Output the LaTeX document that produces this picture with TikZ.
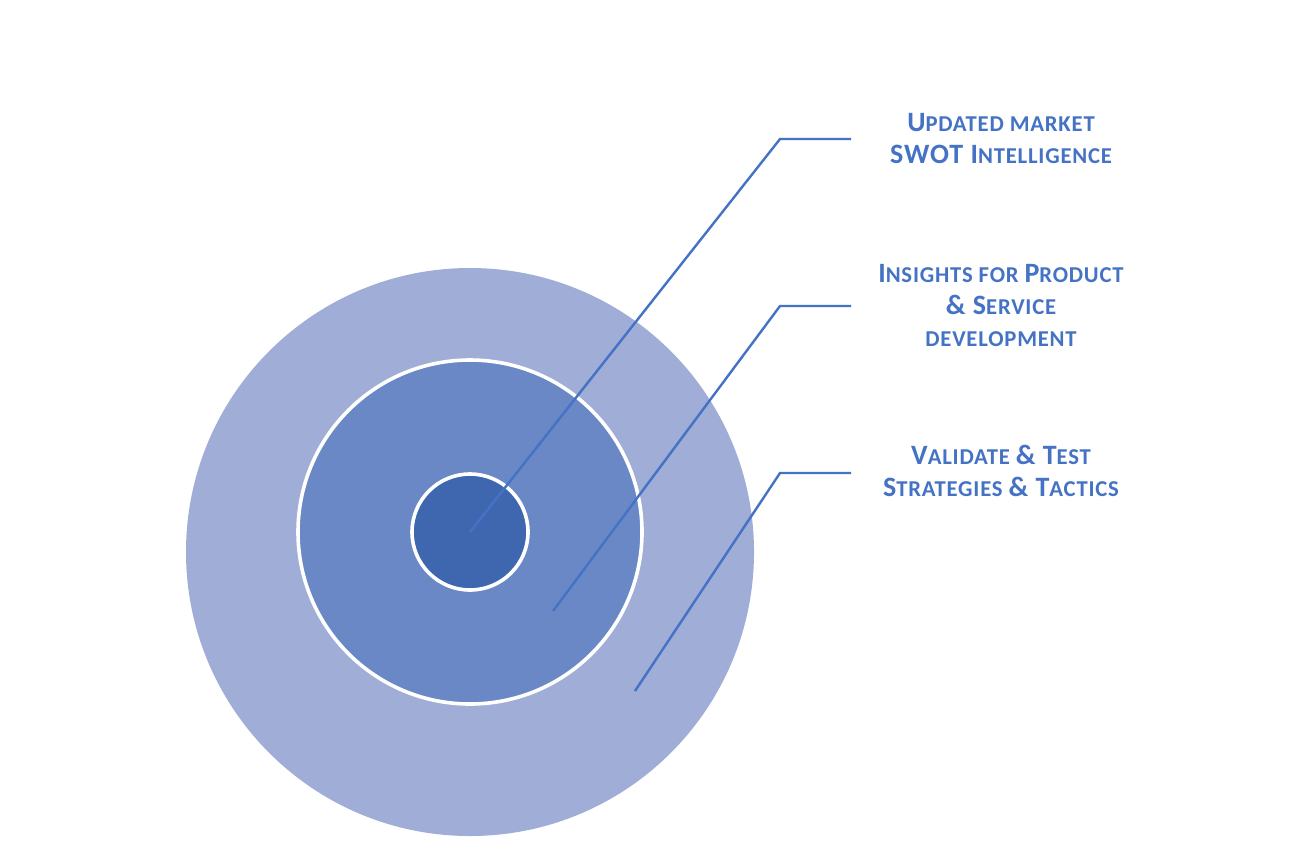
\documentclass[tikz,border=0pt]{standalone}
\usepackage{fontspec}
\setmainfont{Carlito}
\definecolor{outerc}{HTML}{9FADD7}
\definecolor{midc}{HTML}{6A88C6}
\definecolor{innerc}{HTML}{3E67AF}
\definecolor{linec}{HTML}{4472C4}
\newcommand\BigC[1]{{\fontsize{21}{24}\selectfont #1}}
\begin{document}
\begin{tikzpicture}[x=0.75pt,y=-0.75pt,
  ring/.style={circle,inner sep=0pt,outer sep=0pt},
  leader/.style={draw=linec,line width=1.8pt},
  label/.style={text=linec,font=\bfseries\fontsize{17}{24}\selectfont\addfontfeature{LetterSpace=3.5},align=center,inner sep=0pt}]
\useasboundingbox (0,0) rectangle (1301,861);
\fill[white] (0,0) rectangle (1301,861);
\node[ring,fill=outerc,minimum size=568*0.75pt] (outer) at (470,552) {};
\node[ring,fill=midc,draw=white,line width=2.7pt,minimum size=344*0.75pt] (mid) at (470,532) {};
\node[ring,fill=innerc,draw=white,line width=2.7pt,minimum size=116*0.75pt] (inner) at (470,532) {};
\coordinate (s1) at (470,532);
\coordinate (k1) at (780,139);
\coordinate (e1) at (851,139);
\coordinate (s2) at (553,611);
\coordinate (k2) at (780,306);
\coordinate (e2) at (851,306);
\coordinate (s3) at (635,691);
\coordinate (k3) at (780,473);
\coordinate (e3) at (851,473);
\draw[leader] (s1) -- (k1) -- (e1);
\draw[leader] (s2) -- (k2) -- (e2);
\draw[leader] (s3) -- (k3) -- (e3);
\node[label,anchor=base] (t1) at (1001,163) {\BigC{U}PDATED MARKET\\\BigC{SWOT I}NTELLIGENCE};
\node[label,anchor=base] (t2) at (1001,346) {\BigC{I}NSIGHTS FOR \BigC{P}RODUCT\\\BigC{\& S}ERVICE\\DEVELOPMENT};
\node[label,anchor=base] (t3) at (1001,496) {\BigC{V}ALIDATE \BigC{\& T}EST\\\BigC{S}TRATEGIES \BigC{\& T}ACTICS};
\end{tikzpicture}
\end{document}
